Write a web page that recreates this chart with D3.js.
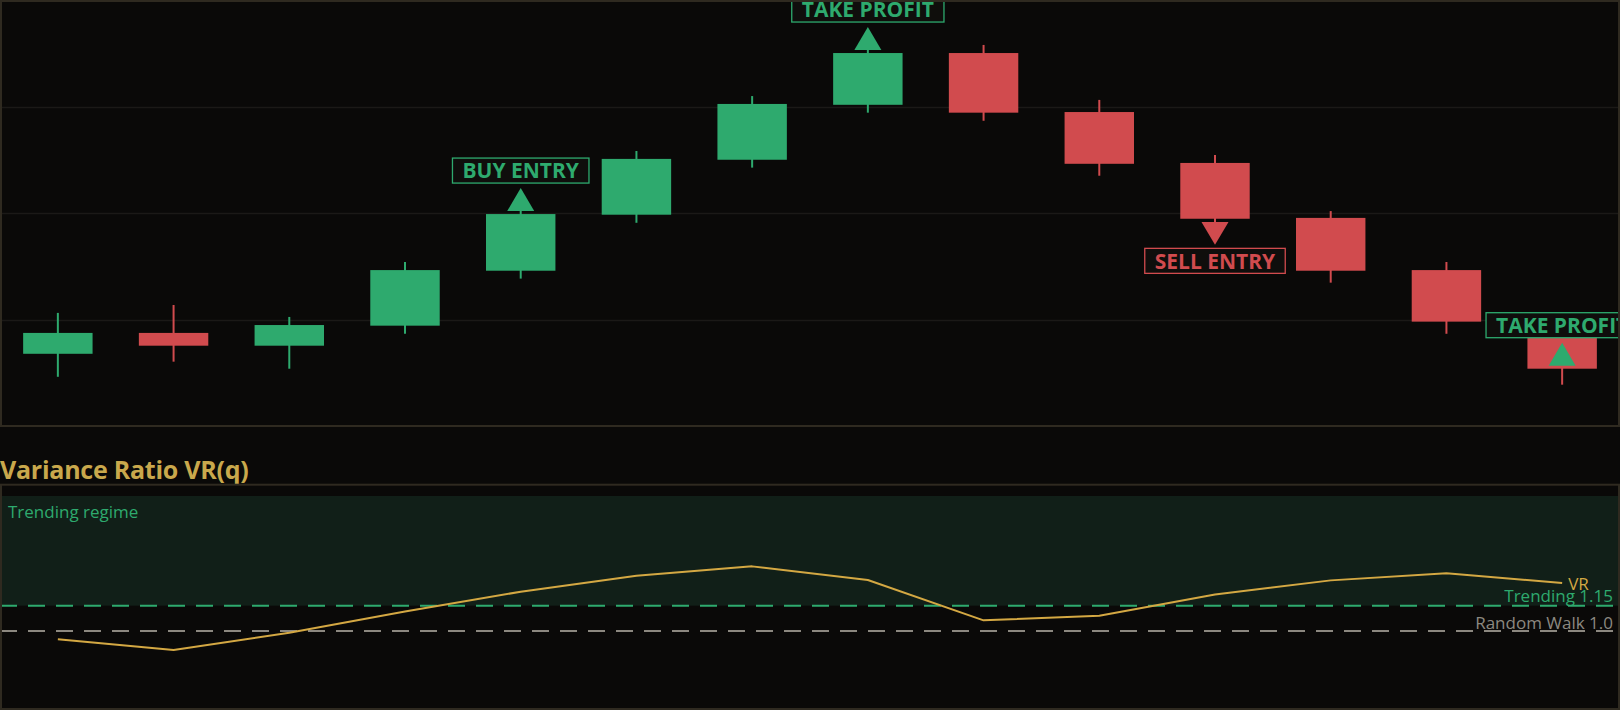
<!DOCTYPE html>
<html>
<head>
<meta charset="utf-8">
<script src="https://cdn.jsdelivr.net/npm/d3@7"></script>
<style>
  html, body { margin: 0; padding: 0; background: #0a0908; overflow: hidden; }
  svg { display: block; }
  text { font-family: "Open Sans", "Noto Sans", sans-serif; }
</style>
</head>
<body>
<svg id="chart" width="1620" height="710"></svg>
<script>
// ---------------- DATA ----------------
const bars   = [1, 2, 3, 4, 5, 6, 7, 8, 9, 10, 11, 12, 13, 14];
const opens  = [98.39, 99.37, 98.77, 99.71, 102.29, 104.92, 107.50, 110.08, 112.51, 109.74, 107.35, 104.77, 102.32, 99.88];
const highs  = [100.31, 100.68, 100.12, 102.70, 105.33, 107.91, 110.49, 112.89, 112.89, 110.31, 107.72, 105.09, 102.70, 100.26];
const lows   = [97.31, 98.02, 97.69, 99.33, 101.92, 104.54, 107.13, 109.71, 109.33, 106.75, 104.17, 101.73, 99.33, 96.94];
const closes = [99.37, 98.77, 99.74, 102.32, 104.95, 107.54, 110.12, 112.51, 109.71, 107.31, 104.73, 102.29, 99.90, 97.69];
const vrValues = [0.951, 0.887, 0.99, 1.115, 1.233, 1.328, 1.383, 1.302, 1.063, 1.091, 1.216, 1.300, 1.342, 1.284];

const signalBars   = [5, 8, 11, 14];
const signalLabels = ["BUY ENTRY", "TAKE PROFIT", "SELL ENTRY", "TAKE PROFIT"];
const signalDirs   = ["up", "up", "down", "up"];

const priceDomain = [95, 115];
const vrDomain = [0.6, 1.8];
const trendLevel = 1.15;
const randomWalkLevel = 1.0;
const chartTitle = "Variance Ratio VR(q)";

// ---------------- STYLE ----------------
const W = 1620, H = 710;
const C = {
  bg: "#0a0908", border: "#2f2a20", grid: "#1b1917",
  up: "#2eaa6e", down: "#d14b4e", gold: "#d4a843", title: "#c9a84c",
  shade: "#111f18", gray: "#8c8880", boxFill: "#0f0e0c"
};

const svg = d3.select("#chart");
svg.append("rect").attr("width", W).attr("height", H).attr("fill", C.bg);

const candles = bars.map((b, i) => ({ b, o: opens[i], h: highs[i], l: lows[i], c: closes[i] }));

const x = d3.scaleBand().domain(bars).range([0, W]).paddingInner(0.4).paddingOuter(0.2);
const cx = b => x(b) + x.bandwidth() / 2;

// ---------------- TOP PANEL ----------------
const y = d3.scaleLinear().domain(priceDomain).range([426, 0]);

const topPanel = svg.append("g");
topPanel.append("clipPath").attr("id", "topClip").append("rect").attr("x", 2).attr("y", 2).attr("width", W - 4).attr("height", 423);

const topInner = topPanel.append("g").attr("clip-path", "url(#topClip)");

// gridlines
const gridTicks = y.ticks(4).filter(t => t > priceDomain[0] && t < priceDomain[1]);
topInner.selectAll("line.grid").data(gridTicks).join("line")
  .attr("class", "grid")
  .attr("x1", 0).attr("x2", W)
  .attr("y1", d => Math.round(y(d)) + 0.5).attr("y2", d => Math.round(y(d)) + 0.5)
  .attr("stroke", C.grid).attr("stroke-width", 1.5);

// wicks
topInner.selectAll("line.wick").data(candles).join("line")
  .attr("class", "wick")
  .attr("x1", d => cx(d.b)).attr("x2", d => cx(d.b))
  .attr("y1", d => y(d.h)).attr("y2", d => y(d.l))
  .attr("stroke", d => d.c >= d.o ? C.up : C.down).attr("stroke-width", 2);

// bodies
topInner.selectAll("rect.body").data(candles).join("rect")
  .attr("class", "body")
  .attr("x", d => x(d.b)).attr("width", x.bandwidth())
  .attr("y", d => y(Math.max(d.o, d.c)))
  .attr("height", d => Math.abs(y(d.o) - y(d.c)))
  .attr("fill", d => d.c >= d.o ? C.up : C.down);

// signals
const signals = signalBars.map((b, i) => ({ b, label: signalLabels[i], dir: signalDirs[i], c: closes[b - 1] }));
const sigColor = d => d.label.startsWith("SELL") ? C.down : C.up;

signals.forEach(s => {
  const g = topInner.append("g");
  const px = cx(s.b), py = y(s.c);
  const col = sigColor(s);
  let tri, boxTop;
  if (s.dir === "up") {
    const base = py - 3, tip = py - 26;
    tri = [[px - 13.5, base], [px + 13.5, base], [px, tip]];
    boxTop = py - 56;
  } else {
    const base = py + 3.3, tip = py + 26;
    tri = [[px - 13.5, base], [px + 13.5, base], [px, tip]];
    boxTop = py + 29.6;
  }
  g.append("path").attr("d", d3.line()(tri) + "Z").attr("fill", col);
  const box = g.append("rect").attr("y", boxTop).attr("height", 25)
    .attr("fill", C.boxFill).attr("stroke", col).attr("stroke-width", 1.3);
  const t = g.append("text").attr("x", px).attr("y", boxTop + 20.3)
    .attr("text-anchor", "middle").attr("font-weight", 700).attr("font-size", 21)
    .attr("fill", col).text(s.label);
  const tw = t.node().getComputedTextLength();
  box.attr("x", px - tw / 2 - 10).attr("width", tw + 20);
});

topPanel.append("rect").attr("x", 1).attr("y", 1).attr("width", W - 2).attr("height", 425)
  .attr("fill", "none").attr("stroke", C.border).attr("stroke-width", 2);

// ---------------- TITLE ----------------
svg.append("text").attr("x", 0).attr("y", 479)
  .attr("font-weight", 700).attr("font-size", 25).attr("letter-spacing", -0.25)
  .attr("fill", C.title).text(chartTitle);

// ---------------- LOWER PANEL ----------------
const vy = d3.scaleLinear().domain(vrDomain).range([698.5, 496]);
const lowPanel = svg.append("g");

lowPanel.append("rect").attr("x", 2).attr("width", W - 4)
  .attr("y", vy(vrDomain[1])).attr("height", vy(trendLevel) - vy(vrDomain[1]))
  .attr("fill", C.shade);

lowPanel.append("text").attr("x", 8).attr("y", vy(vrDomain[1]) + 21.7)
  .attr("font-size", 17).attr("fill", C.up).text("Trending regime");

const levels = [
  { v: trendLevel, color: C.up, label: "Trending " + trendLevel.toFixed(2), dy: -3.2 },
  { v: randomWalkLevel, color: C.gray, label: "Random Walk " + randomWalkLevel.toFixed(1), dy: -2 }
];
levels.forEach(L => {
  lowPanel.append("line").attr("x1", 0).attr("x2", 1613)
    .attr("y1", vy(L.v)).attr("y2", vy(L.v))
    .attr("stroke", L.color).attr("stroke-width", 2).attr("stroke-dasharray", "17,11");
  lowPanel.append("text").attr("x", 1613).attr("y", vy(L.v) + L.dy)
    .attr("text-anchor", "end").attr("font-size", 17).attr("fill", L.color).text(L.label);
});

const vrLine = d3.line().x((d, i) => cx(bars[i])).y(d => vy(d)).curve(d3.curveLinear);
lowPanel.append("path").attr("d", vrLine(vrValues)).attr("fill", "none")
  .attr("stroke", C.gold).attr("stroke-width", 2).attr("stroke-linejoin", "round");

lowPanel.append("text").attr("x", cx(bars[bars.length - 1]) + 6)
  .attr("y", vy(vrValues[vrValues.length - 1]) + 7)
  .attr("font-size", 17).attr("fill", C.gold).text("VR");

lowPanel.append("rect").attr("x", 1).attr("y", 484.7).attr("width", W - 2).attr("height", 224.3)
  .attr("fill", "none").attr("stroke", C.border).attr("stroke-width", 2);
</script>
</body>
</html>
